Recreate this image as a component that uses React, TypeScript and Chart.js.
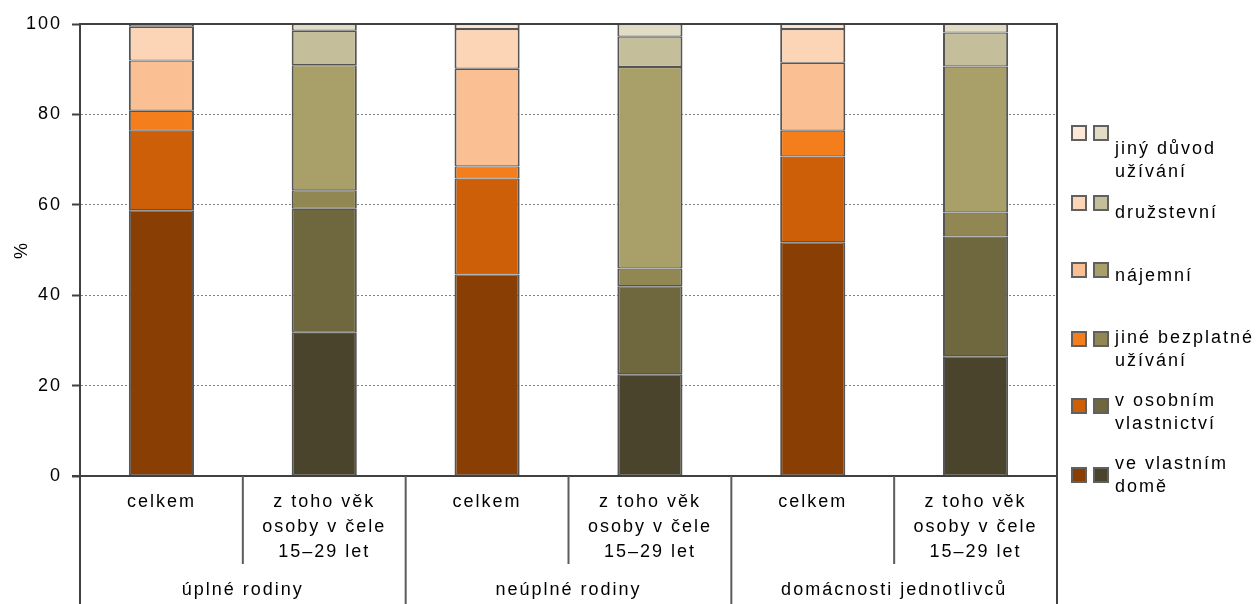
import React, { useRef, useEffect } from "react";
import { Chart, registerables } from "chart.js";

Chart.register(...registerables);

const barLabels = [
  ["celkem"],
  ["z toho věk", "osoby v čele", "15–29 let"],
  ["celkem"],
  ["z toho věk", "osoby v čele", "15–29 let"],
  ["celkem"],
  ["z toho věk", "osoby v čele", "15–29 let"],
];
const groupLabels = ["úplné rodiny", "neúplné rodiny", "domácnosti jednotlivců"];

// order = stack order from the bottom
const seriesNames = [
  "ve vlastním domě",
  "v osobním vlastnictví",
  "jiné bezplatné užívání",
  "nájemní",
  "družstevní",
  "jiný důvod užívání",
];
const legendLines = [
  ["ve vlastním", "domě"],
  ["v osobním", "vlastnictví"],
  ["jiné bezplatné", "užívání"],
  ["nájemní"],
  ["družstevní"],
  ["jiný důvod", "užívání"],
];

// values per bar: úplné celkem, úplné 15–29, neúplné celkem, neúplné 15–29, jednotlivci celkem, jednotlivci 15–29
const vlastniDum = [58.8, 31.7, 44.6, 22.5, 51.7, 26.5];
const osobniVlastnictvi = [17.6, 27.4, 21.2, 19.5, 19.0, 26.5];
const jineBezplatne = [4.4, 4.1, 2.7, 3.9, 5.7, 5.3];
const najemni = [11.1, 27.7, 21.6, 44.6, 15.0, 32.3];
const druzstevni = [7.5, 7.6, 8.8, 6.7, 7.5, 7.5];
const jinyDuvod = [0.6, 1.5, 1.1, 2.8, 1.1, 1.9];
const seriesValues = [vlastniDum, osobniVlastnictvi, jineBezplatne, najemni, druzstevni, jinyDuvod];

const totalColors = ["#893F04", "#CC5F08", "#F47D1C", "#FAC093", "#FCD5B6", "#FDE8D8"];
const youngColors = ["#4A442C", "#6F683F", "#908752", "#A89F69", "#C5BE9A", "#E0DCC6"];

// legend placement (px from top of page)
const legendSwatchTop = [467, 398, 331, 262, 195, 125];
const legendTextMid = [463, 400, 337, 275, 212, 148];

const FONT_FAMILY = "'Liberation Sans', Arial, sans-serif";

const framePlugin = {
  id: "frame",
  beforeDraw(chart: any) {
    chart.ctx.letterSpacing = "2px";
  },
  afterDatasetsDraw(chart: any) {
    const { ctx, chartArea, height } = chart;
    const { left, right, top, bottom } = chartArea;
    const step = (right - left) / barLabels.length;
    ctx.save();
    ctx.letterSpacing = "0px";
    ctx.strokeStyle = "#404040";
    ctx.lineWidth = 2;
    ctx.beginPath();
    ctx.moveTo(left, height);
    ctx.lineTo(left, top);
    ctx.lineTo(right, top);
    ctx.lineTo(right, height);
    ctx.moveTo(left - 8, bottom);
    ctx.lineTo(right, bottom);
    ctx.stroke();

    ctx.strokeStyle = "#5c5c5c";
    ctx.beginPath();
    for (let i = 1; i < barLabels.length; i++) {
      const x = left + i * step;
      ctx.moveTo(x, bottom);
      ctx.lineTo(x, i % 2 === 0 ? height : bottom + 88);
    }
    ctx.stroke();
    ctx.restore();
  },
};

function buildDatasets() {
  const out: any[] = [];
  seriesValues.forEach((vals, i) => {
    const common = {
      borderColor: "#555555",
      borderWidth: { top: 1.2, bottom: 1.2, left: 2, right: 2 },
      borderSkipped: false,
      inflateAmount: 0,
      stack: "s",
    };
    out.push({
      ...common,
      label: seriesNames[i] + " (celkem)",
      data: vals.map((v, j) => (j % 2 === 0 ? v : null)),
      backgroundColor: totalColors[i],
    });
    out.push({
      ...common,
      label: seriesNames[i] + " (15–29 let)",
      data: vals.map((v, j) => (j % 2 === 1 ? v : null)),
      backgroundColor: youngColors[i],
    });
  });
  return out;
}

export default function App() {
  const canvas = useRef<HTMLCanvasElement>(null);
  const chart = useRef<Chart>();

  useEffect(() => {
    const ctx = canvas.current!.getContext("2d");
    if (!ctx) return;
    const font = { family: FONT_FAMILY, size: 18, lineHeight: 25 / 18 };

    chart.current = new Chart(ctx, {
      type: "bar",
      data: { labels: barLabels as any, datasets: buildDatasets() },
      plugins: [framePlugin as any],
      options: {
        animation: false,
        responsive: true,
        maintainAspectRatio: false,
        layout: { padding: { left: 0, top: 24, right: 201, bottom: 0 } },
        plugins: { legend: { display: false }, tooltip: { enabled: false } },
        datasets: { bar: { barPercentage: 0.4, categoryPercentage: 1 } },
        scales: {
          x: {
            stacked: true,
            grid: { display: false, drawTicks: false },
            border: { display: false },
            ticks: { font, color: "#000", padding: 14, maxRotation: 0, autoSkip: false },
            afterFit: (s: any) => {
              s.height = 90;
            },
          },
          x2: {
            type: "category",
            labels: groupLabels,
            position: "bottom",
            offset: true,
            weight: 1,
            grid: { display: false, drawTicks: false },
            border: { display: false },
            ticks: { font, color: "#000", padding: 12, maxRotation: 0, autoSkip: false },
            afterFit: (s: any) => {
              s.height = 38;
            },
          },
          y: {
            stacked: true,
            min: 0,
            max: 100,
            ticks: { stepSize: 20, font: { family: FONT_FAMILY, size: 18 }, color: "#000", padding: 10 },
            grid: {
              color: "#808080",
              lineWidth: 1,
              tickLength: 8,
              tickColor: "#404040",
              tickWidth: 2,
            },
            border: { display: true, color: "#404040", width: 2, dash: [2, 2] },
            title: {
              display: true,
              text: "%",
              color: "#000",
              font: { family: FONT_FAMILY, size: 18 },
              padding: { top: 11, bottom: 0 },
            },
            afterFit: (s: any) => {
              s.width = 80;
            },
          },
        },
      } as any,
    });

    return () => {
      chart.current!.destroy();
    };
  }, []);

  return (
    <div
      style={{
        position: "fixed",
        left: 0,
        top: 0,
        width: 1258,
        height: 604,
        background: "#fff",
        fontFamily: FONT_FAMILY,
      }}
    >
      <canvas ref={canvas} />
      {seriesNames.map((name, i) => (
        <React.Fragment key={name}>
          <div style={{ position: "absolute", left: 1071, top: legendSwatchTop[i], display: "flex", gap: 6 }}>
            {[totalColors[i], youngColors[i]].map((c) => (
              <span
                key={c}
                style={{
                  display: "block",
                  width: 16,
                  height: 16,
                  boxSizing: "border-box",
                  border: "2px solid #606060",
                  background: c,
                }}
              />
            ))}
          </div>
          <div
            style={{
              position: "absolute",
              left: 1115,
              top: legendTextMid[i] - 11.5,
              fontSize: 18,
              lineHeight: "23px",
              letterSpacing: "2px",
              color: "#000",
              whiteSpace: "nowrap",
            }}
          >
            {legendLines[i].map((l) => (
              <div key={l}>{l}</div>
            ))}
          </div>
        </React.Fragment>
      ))}
    </div>
  );
}
